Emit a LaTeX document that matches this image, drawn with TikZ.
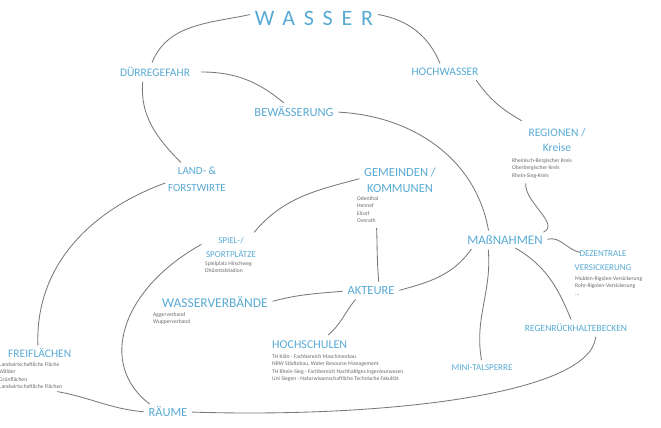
\documentclass[tikz,border=0pt]{standalone}
\usepackage{fontspec}
\setmainfont{Carlito}
\newfontfamily\wideletters[LetterSpace=40]{Carlito}
\definecolor{labelblue}{RGB}{88,170,212}
\definecolor{notegray}{RGB}{105,105,105}
\definecolor{linkgray}{RGB}{128,118,118}
\tikzset{
  topic/.style={text=labelblue, inner sep=2pt, align=center},
  notes/.style={text=notegray, font=\fontsize{5.6}{7.6}\selectfont, align=left, inner sep=0pt, anchor=north west},
  link/.style={draw=linkgray, line width=0.85pt, line cap=round, shorten <=3pt, shorten >=3pt},
}
\begin{document}
\begin{tikzpicture}[x=1pt,y=-1pt]
\useasboundingbox (0,0) rectangle (661,428);

% central term
\node[topic, font=\wideletters\fontsize{22}{24}\selectfont] (wasser) at (314,18) {WASSER};

% topics
\node[topic, font=\fontsize{11.5}{13}\selectfont] (duerre) at (155,72) {DÜRREGEFAHR};
\node[topic, font=\fontsize{11.5}{13}\selectfont] (hoch) at (445,72) {HOCHWASSER};
\node[topic, font=\fontsize{12.5}{13}\selectfont] (bew) at (294,112) {BEWÄSSERUNG};

\node[topic, font=\fontsize{11.5}{15}\selectfont] (regionen) at (557,140) {REGIONEN /\\Kreise};
\node[notes] (reglist) at (512,158) {Rheinisch-Bergischer Kreis\\Oberbergischer Kreis\\Rhein-Sieg-Kreis};

\node[topic, font=\fontsize{11}{17}\selectfont] (land) at (197,179) {LAND- \&\\FORSTWIRTE};

\node[topic, font=\fontsize{12.5}{16}\selectfont] (gem) at (400,180) {GEMEINDEN /\\KOMMUNEN};
\node[notes] (gemlist) at (357,196) {Odenthal\\Hennef\\Eitorf\\Overath};

\node[topic, font=\fontsize{9}{14}\selectfont] (spiel) at (231,247) {SPIEL-/\\SPORTPLÄTZE};
\node[notes] (spiellist) at (205,261) {Spielplatz Hirschweg\\Dhünntalstadion};

\node[topic, font=\fontsize{13.5}{15}\selectfont] (wv) at (215,302) {WASSERVERBÄNDE};
\node[notes] (wvlist) at (153,312) {Aggerverband\\Wupperverband};

\node[topic, font=\fontsize{12.5}{14}\selectfont] (akt) at (371,291) {AKTEURE};

\node[topic, font=\fontsize{12}{14}\selectfont, anchor=west, inner xsep=0pt] (hs) at (272,345) {HOCHSCHULEN};
\node[notes] (hslist) at (272,354) {TH Köln - Fachbereich Maschinenbau\\NRW Städtebau, Water Resource Management\\TH Rhein-Sieg - Fachbereich Nachhaltiges Ingenieurwesen\\Uni Siegen - Naturwissenschaftliche Technische Fakultät};

\node[topic, font=\fontsize{13}{14}\selectfont] (mass) at (505,240) {MAßNAHMEN};

\node[topic, font=\fontsize{9}{14}\selectfont] (dez) at (603,261) {DEZENTRALE\\VERSICKERUNG};
\node[notes] (dezlist) at (575,276) {Mulden-Rigolen-Versickerung\\Rohr-Rigolen-Versickerung\\...};

\node[topic, font=\fontsize{9.5}{11}\selectfont] (rrb) at (576,328) {REGENRÜCKHALTEBECKEN};
\node[topic, font=\fontsize{9}{11}\selectfont] (mini) at (482,368) {MINI-TALSPERRE};

\node[topic, font=\fontsize{11.5}{13}\selectfont, anchor=west, inner xsep=0pt] (frei) at (8,353) {FREIFLÄCHEN};
\node[notes] (freilist) at (-1,362) {Landwirtschaftliche Fläche\\Wälder\\Grünflächen\\Landwirtschaftliche Flächen};

\node[topic, font=\fontsize{12.5}{14}\selectfont] (raeume) at (168,412) {RÄUME};

% connectors
\draw[link] ([yshift=4pt]wasser.west) to[out=192,in=68] ([xshift=-4pt]duerre.north);
\draw[link] ([yshift=4pt]wasser.east) to[out=-10,in=112] ([xshift=-4pt]hoch.north);
\draw[link] ([xshift=6pt]duerre.east) to[out=0,in=140] ([xshift=-8pt]bew.north);
\draw[link] ([xshift=-12pt]duerre.south) to[out=-95,in=135] ([xshift=-14pt]land.north);
\draw[link] ([xshift=-6pt]hoch.south east) to[out=-55,in=150] ([xshift=-2pt,yshift=4pt]regionen.north west);
\draw[link] (bew.east) to[out=-3,in=100] ([xshift=-16pt]mass.north);
\draw[link] ([xshift=-16pt,yshift=-2pt]reglist.south) to[out=-95,in=25] ([xshift=-4pt]mass.north east);
\draw[link] ([xshift=2pt,yshift=-3pt]land.west) to[out=200,in=92] ([xshift=30pt,yshift=-2pt]frei.north west);
\draw[link] ([yshift=2pt]gem.west) to[out=195,in=50] ([xshift=-6pt]spiel.north east);
\draw[link] ([xshift=-2pt,yshift=-2pt]gemlist.south east) to[out=-88,in=95] ([xshift=8pt]akt.north);
\draw[link] ([yshift=4pt]spiel.west) .. controls (120,290) and (98,365) .. ([xshift=-16pt,yshift=-1pt]raeume.north);
\draw[link] (wv.east) to[out=15,in=185] (akt.west);
\draw[link] ([xshift=12pt]akt.south west) to[out=-130,in=40] ([xshift=54pt,yshift=2pt]hs.north west);
\draw[link] (akt.east) to[out=15,in=-125] ([xshift=-32pt]mass.south);
\draw[link] (mass.east) to[out=15,in=170] ([xshift=-20pt,yshift=-4pt]dez.north);
\draw[link] ([xshift=8pt]mass.south) to[out=-30,in=112] ([xshift=-4pt]rrb.north);
\draw[link] ([xshift=-17pt]mass.south) to[out=-85,in=100] (mini.north);
\draw[link] ([xshift=20pt]rrb.south) .. controls (590,395) and (380,418) .. (raeume.east);
\draw[link] ([xshift=-8pt,yshift=-2pt]freilist.south east) to[out=-10,in=175] (raeume.west);
\end{tikzpicture}
\end{document}
